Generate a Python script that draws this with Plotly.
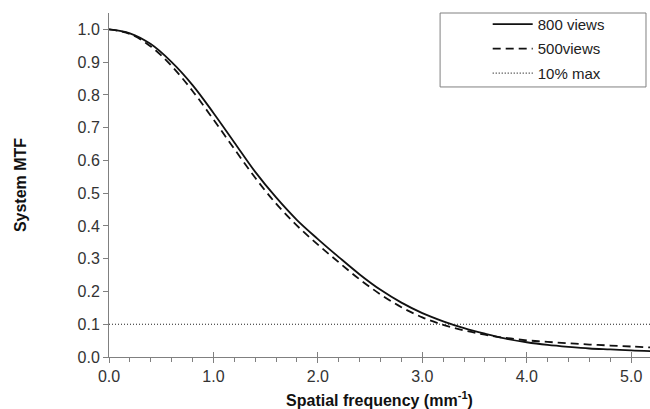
import plotly.graph_objects as go

freq = [0.0, 0.2, 0.4, 0.6, 0.8, 1.0, 1.2, 1.4, 1.6, 1.8, 2.0, 2.2, 2.4, 2.6,
        2.8, 3.0, 3.2, 3.4, 3.6, 3.8, 4.0, 4.2, 4.4, 4.6, 4.8, 5.0, 5.2]
mtf_800 = [1.000, 0.988, 0.955, 0.900, 0.830, 0.745, 0.655, 0.565, 0.487, 0.418,
           0.360, 0.305, 0.252, 0.205, 0.166, 0.134, 0.109, 0.088, 0.071, 0.056,
           0.045, 0.037, 0.031, 0.026, 0.023, 0.020, 0.018]
mtf_500 = [1.000, 0.986, 0.948, 0.888, 0.812, 0.725, 0.635, 0.547, 0.468, 0.401,
           0.343, 0.289, 0.237, 0.191, 0.152, 0.121, 0.098, 0.081, 0.068, 0.058,
           0.051, 0.046, 0.042, 0.038, 0.035, 0.032, 0.029]
thr_x = [0.0, 5.2]
thr_y = [0.1, 0.1]
names = ["800 views", "500views", "10% max"]
x_ticks = [0, 1, 2, 3, 4, 5]
x_labels = ["0.0", "1.0", "2.0", "3.0", "4.0", "5.0"]
y_ticks = [i / 10 for i in range(11)]
y_labels = [f"{v:.1f}" for v in y_ticks]

FONT = "Liberation Sans, Arial, sans-serif"

fig = go.Figure()
fig.add_trace(go.Scatter(x=freq, y=mtf_800, mode="lines", name=names[0],
                         line=dict(color="#111111", width=1.8, shape="spline"),
                         legendgroup="a"))
fig.add_trace(go.Scatter(x=freq, y=mtf_500, mode="lines", name=names[1],
                         line=dict(color="#111111", width=1.8, dash="8px,5px", shape="spline"),
                         legendgroup="b"))
fig.add_trace(go.Scatter(x=thr_x, y=thr_y, mode="lines", name=names[2],
                         line=dict(color="#222222", width=1.2, dash="1px,2px"),
                         legendgroup="c", xaxis="x2"))

axis_common = dict(range=[0, 5.18], showgrid=False, zeroline=False)
fig.update_layout(
    width=650, height=409,
    margin=dict(l=109, r=0, t=13, b=52, autoexpand=False),
    paper_bgcolor="white", plot_bgcolor="white",
    font=dict(family=FONT, color="#333333"),
    xaxis=dict(**axis_common, tickmode="array", tickvals=x_ticks, ticktext=x_labels,
               ticks="outside", ticklen=5, tickcolor="#808080", tickwidth=1,
               showline=True, linecolor="#808080", linewidth=1, automargin=False,
               minor=dict(dtick=0.2, ticks="outside", ticklen=4, tickcolor="#808080"),
               tickfont=dict(size=16, color="#333333"),
               title=dict(text="<b>Spatial frequency (mm<sup>-1</sup>)</b>",
                          font=dict(size=16, color="#111111"), standoff=15)),
    xaxis2=dict(**axis_common, overlaying="x", anchor="y", side="bottom",
                tickmode="array", tickvals=x_ticks,
                ticks="inside", ticklen=5, tickcolor="#808080",
                showticklabels=False, showline=False),
    yaxis=dict(range=[0, 1.05], showgrid=False, zeroline=False,
               tickmode="array", tickvals=y_ticks, ticktext=y_labels,
               ticks="outside", ticklen=5, tickcolor="#808080", automargin=False,
               showline=True, linecolor="#808080", linewidth=1,
               tickfont=dict(size=16, color="#333333"),
               title=dict(text="<b>System MTF</b>", font=dict(size=16, color="#111111"),
                          standoff=46)),
    legend=dict(x=0.70, y=1.015, xanchor="left", yanchor="top",
                bgcolor="rgba(0,0,0,0)", borderwidth=0,
                font=dict(size=15, color="#222222"), tracegroupgap=2,
                itemwidth=40),
    shapes=[dict(type="rect", xref="paper", yref="paper",
                 x0=0.612, x1=0.9926, y0=0.785, y1=1.0,
                 line=dict(color="#808080", width=1), fillcolor="rgba(0,0,0,0)")],
    showlegend=True,
)
fig.write_html("out.html", config={"displayModeBar": False},
               post_script="document.body.style.margin='0';")
